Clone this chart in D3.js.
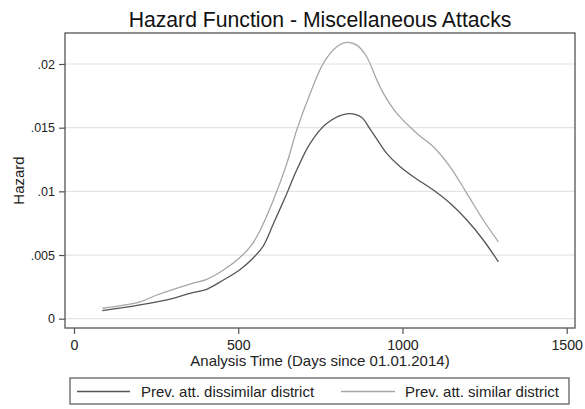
<!DOCTYPE html>
<html>
<head>
<meta charset="utf-8">
<script src="https://cdn.jsdelivr.net/npm/d3@7"></script>
<style>
  html, body { margin: 0; padding: 0; background: #fff; }
  svg { display: block; font-family: "Liberation Sans", Arial, sans-serif; }
</style>
</head>
<body>
<svg id="chart" width="585" height="409"></svg>
<script>
// Smoothed hazard estimates by analysis time (days since 01.01.2014)
const daysDissimilar = [86, 201, 302, 353, 404, 455, 505, 541, 576, 607, 648, 678, 719, 770, 835, 875, 901, 922, 952, 993, 1033, 1094, 1145, 1196, 1246, 1292];
const hazardDissimilar = [0.00063, 0.00108, 0.00160, 0.00199, 0.00231, 0.00304, 0.00385, 0.00465, 0.00570, 0.00745, 0.00984, 0.01167, 0.01377, 0.01534, 0.01610, 0.01582, 0.01490, 0.01410, 0.01298, 0.01193, 0.01115, 0.01010, 0.00906, 0.00775, 0.00618, 0.00447];

const daysSimilar = [86, 201, 252, 353, 404, 455, 505, 541, 566, 607, 648, 678, 719, 759, 800, 830, 861, 891, 922, 942, 983, 1044, 1094, 1145, 1196, 1246, 1292];
const hazardSimilar = [0.00082, 0.00133, 0.00186, 0.00272, 0.00309, 0.00382, 0.00480, 0.00580, 0.00690, 0.00932, 0.01220, 0.01481, 0.01769, 0.02005, 0.02135, 0.02170, 0.02148, 0.02057, 0.01874, 0.01769, 0.01612, 0.01455, 0.01350, 0.01193, 0.00984, 0.00775, 0.00604];

const xTicks = [0, 500, 1000, 1500];
const yTicks = [0, 0.005, 0.01, 0.015, 0.02];
const yTickLabels = ["0", ".005", ".01", ".015", ".02"];
const seriesNames = ["Prev. att. dissimilar district", "Prev. att. similar district"];
const seriesColors = ["#555555", "#a6a6a6"];

const svg = d3.select("#chart");
const box = { left: 65, right: 575, top: 33, bottom: 328 };

const x = d3.scaleLinear().domain([0, 1500]).range([74, 566.7]);
const y = d3.scaleLinear().domain([0, 0.02]).range([318.7, 64]);

// title
svg.append("text")
  .attr("x", (box.left + box.right) / 2)
  .attr("y", 27)
  .attr("text-anchor", "middle")
  .attr("font-size", 21.2)
  .attr("fill", "#111")
  .text("Hazard Function - Miscellaneous Attacks");

// horizontal grid lines
svg.append("g")
  .selectAll("line")
  .data(yTicks)
  .join("line")
  .attr("x1", box.left)
  .attr("x2", box.right)
  .attr("y1", d => y(d))
  .attr("y2", d => y(d))
  .attr("stroke", "#e4e4e4")
  .attr("stroke-width", 1.2);

// series
const series = [
  { days: daysDissimilar, hazard: hazardDissimilar },
  { days: daysSimilar, hazard: hazardSimilar }
];
const line = d3.line()
  .x(d => x(d[0]))
  .y(d => y(d[1]))
  .curve(d3.curveCatmullRom.alpha(0.5));

svg.append("g")
  .selectAll("path")
  .data(series)
  .join("path")
  .attr("d", s => line(d3.zip(s.days, s.hazard)))
  .attr("fill", "none")
  .attr("stroke", (s, i) => seriesColors[i])
  .attr("stroke-width", 1.3);

// plot region outline
svg.append("rect")
  .attr("x", box.left)
  .attr("y", box.top)
  .attr("width", box.right - box.left)
  .attr("height", box.bottom - box.top)
  .attr("fill", "none")
  .attr("stroke", "#555")
  .attr("stroke-width", 1.3);

// y axis
const yAxis = d3.axisLeft(y)
  .tickValues(yTicks)
  .tickFormat((d, i) => yTickLabels[i])
  .tickSize(6)
  .tickPadding(4);
const gy = svg.append("g")
  .attr("transform", `translate(${box.left},0)`)
  .call(yAxis);
gy.select(".domain").remove();
gy.selectAll(".tick line").attr("stroke", "#555").attr("stroke-width", 1.2);
gy.selectAll(".tick text")
  .attr("font-size", 12.5)
  .attr("fill", "#222")
  .attr("font-family", "'Liberation Sans', Arial, sans-serif");

// x axis
const xAxis = d3.axisBottom(x)
  .tickValues(xTicks)
  .tickFormat(d3.format("d"))
  .tickSize(6)
  .tickPadding(6);
const gx = svg.append("g")
  .attr("transform", `translate(0,${box.bottom})`)
  .call(xAxis);
gx.select(".domain").remove();
gx.selectAll(".tick line").attr("stroke", "#555").attr("stroke-width", 1.2);
gx.selectAll(".tick text")
  .attr("font-size", 14.2)
  .attr("fill", "#222")
  .attr("font-family", "'Liberation Sans', Arial, sans-serif");

// axis titles
svg.append("text")
  .attr("x", 320)
  .attr("y", 366)
  .attr("text-anchor", "middle")
  .attr("font-size", 15)
  .attr("fill", "#222")
  .text("Analysis Time (Days since 01.01.2014)");

svg.append("text")
  .attr("transform", `translate(24,${(box.top + box.bottom) / 2}) rotate(-90)`)
  .attr("text-anchor", "middle")
  .attr("font-size", 15)
  .attr("fill", "#222")
  .text("Hazard");

// legend
const legend = svg.append("g");
legend.append("rect")
  .attr("x", 70)
  .attr("y", 378)
  .attr("width", 499)
  .attr("height", 26)
  .attr("fill", "#fff")
  .attr("stroke", "#555")
  .attr("stroke-width", 1.2);

const legendItems = [
  { x1: 77, x2: 130, tx: 141 },
  { x1: 341, x2: 395, tx: 405 }
];
legendItems.forEach((it, i) => {
  legend.append("line")
    .attr("x1", it.x1).attr("x2", it.x2)
    .attr("y1", 391.5).attr("y2", 391.5)
    .attr("stroke", seriesColors[i])
    .attr("stroke-width", 1.3);
  legend.append("text")
    .attr("x", it.tx)
    .attr("y", 396.8)
    .attr("font-size", 15)
    .attr("fill", "#222")
    .text(seriesNames[i]);
});
</script>
</body>
</html>
